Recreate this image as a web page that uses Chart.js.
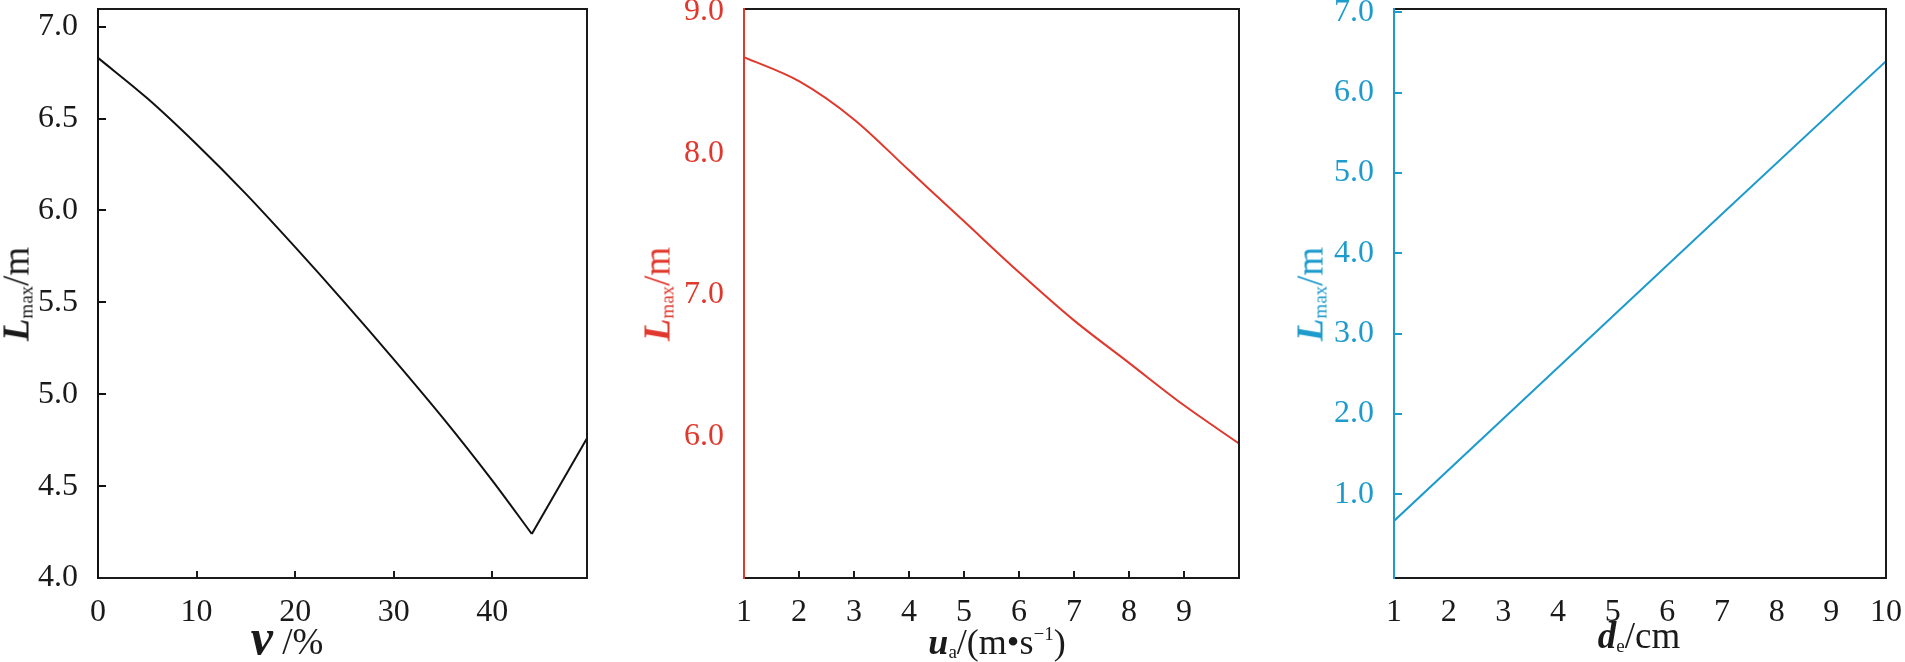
<!DOCTYPE html>
<html>
<head>
<meta charset="utf-8">
<script src="https://cdn.jsdelivr.net/npm/chart.js"></script>
<style>
  html, body { margin: 0; padding: 0; background: #fff; }
  body { width: 1905px; height: 662px; position: relative; overflow: hidden; font-family: 'Liberation Serif', 'DejaVu Serif', serif; }
  .panel { position: absolute; top: 0; height: 662px; }
  .title { position: absolute; white-space: nowrap; font-size: 37px; line-height: 37px; }
  .xt { transform: translateX(-50%); color: #1a1a1a; }
  .yt { transform: translate(-50%, -50%) rotate(-90deg); }
  .title sub { font-size: 19px; vertical-align: -4px; line-height: 0; }
  .title sup { font-size: 19px; vertical-align: 14px; line-height: 0; }
  .big { font-weight: bold; font-style: italic; }
</style>
</head>
<body>
<div class="panel" style="left:0;width:625px"><canvas id="c1"></canvas></div>
<div class="panel" style="left:640px;width:620px"><canvas id="c2"></canvas></div>
<div class="panel" style="left:1280px;width:625px"><canvas id="c3"></canvas></div>

<div class="title yt" style="left:16px;top:294px;color:#1a1a1a"><span class="big">L</span><sub>max</sub>/m</div>
<div class="title yt" style="left:657px;top:294px;color:#e0382c"><span class="big">L</span><sub>max</sub>/m</div>
<div class="title yt" style="left:1310px;top:294px;color:#1e9bcd"><span class="big">L</span><sub>max</sub>/m</div>

<div class="title xt" style="left:287px;top:619px"><span class="big" style="font-size:50px">v</span> /%</div>
<div class="title xt" style="left:997px;top:624px;font-size:36px"><span class="big">u</span><sub>a</sub>/(m•s<sup>−1</sup>)</div>
<div class="title xt" style="left:1639px;top:617px"><span class="big">d</span><sub>e</sub>/cm</div>

<script>
// panel 1: L_max vs v (%)
const vPct = [0, 5, 10, 15, 20, 25, 30, 35, 40, 44, 49.6];
const lmaxV = [6.83, 6.61, 6.36, 6.09, 5.80, 5.50, 5.19, 4.87, 4.53, 4.24, 4.76];
const vTicks = [0, 10, 20, 30, 40];
const lmaxVTicks = [4.0, 4.5, 5.0, 5.5, 6.0, 6.5, 7.0];

// panel 2: L_max vs u_a (m/s)
const uaWind = [1, 2, 3, 4, 5, 6, 7, 8, 9, 10];
const lmaxU = [8.68, 8.51, 8.24, 7.88, 7.52, 7.16, 6.82, 6.52, 6.22, 5.95];
const uaTicks = [1, 2, 3, 4, 5, 6, 7, 8, 9];
const lmaxUTicks = [6.0, 7.0, 8.0, 9.0];

// panel 3: L_max vs d_e (cm)
const deCm = [1, 4, 7, 10];
const lmaxD = [0.67, 2.58, 4.49, 6.39];
const deTicks = [1, 2, 3, 4, 5, 6, 7, 8, 9, 10];
const lmaxDTicks = [1.0, 2.0, 3.0, 4.0, 5.0, 6.0, 7.0];

const FONT = "'Liberation Serif', 'DejaVu Serif', serif";
const INK = '#1a1a1a';

// box round the plot + short inward tick marks
const framePlugin = {
  id: 'frame',
  afterDatasetsDraw(chart, args, o) {
    const { ctx, chartArea: a, scales: { x, y } } = chart;
    ctx.save();
    ctx.lineWidth = 2;
    ctx.lineCap = 'butt';
    ctx.strokeStyle = INK;
    ctx.beginPath();
    (o.xMarks || []).forEach(v => {
      const px = Math.round(x.getPixelForValue(v));
      ctx.moveTo(px, a.bottom);
      ctx.lineTo(px, a.bottom - 7);
    });
    ctx.stroke();
    ctx.strokeStyle = o.yColor;
    ctx.beginPath();
    (o.yMarks || []).forEach(v => {
      const py = Math.round(y.getPixelForValue(v));
      ctx.moveTo(a.left, py);
      ctx.lineTo(a.left + 8, py);
    });
    ctx.stroke();
    ctx.strokeStyle = INK;
    ctx.lineJoin = 'miter';
    ctx.beginPath();
    ctx.moveTo(a.left, a.top);
    ctx.lineTo(a.right, a.top);
    ctx.lineTo(a.right, a.bottom);
    ctx.lineTo(a.left, a.bottom);
    ctx.stroke();
    ctx.strokeStyle = o.yColor;
    ctx.beginPath();
    ctx.moveTo(a.left, a.top - 1);
    ctx.lineTo(a.left, a.bottom + 1);
    ctx.stroke();
    ctx.restore();
  }
};

function lineSet(xs, ys, color, smooth) {
  return {
    data: xs.map((x, i) => ({ x: x, y: ys[i] })),
    borderColor: color,
    borderWidth: 2,
    pointRadius: 0,
    tension: 0,
    cubicInterpolationMode: smooth ? 'monotone' : 'default',
    fill: false
  };
}

function makePanel(id, p) {
  new Chart(document.getElementById(id), {
    type: 'line',
    data: { datasets: p.sets },
    plugins: [framePlugin],
    options: {
      responsive: true,
      maintainAspectRatio: false,
      animation: false,
      layout: { padding: { top: 9, right: p.padRight, left: 0, bottom: 0 } },
      plugins: {
        legend: { display: false },
        tooltip: { enabled: false },
        frame: { xMarks: p.xMarks, yMarks: p.yMarks, yColor: p.color }
      },
      scales: {
        x: {
          type: 'linear',
          min: p.xMin,
          max: p.xMax,
          afterBuildTicks: s => { s.ticks = p.xTicks.map(v => ({ value: v })); },
          afterFit: s => { s.height = 84; s.paddingLeft = 0; s.paddingRight = 0; },
          grid: { display: false },
          border: { display: false },
          ticks: {
            padding: 7,
            color: INK,
            autoSkip: false,
            maxRotation: 0,
            font: { family: FONT, size: 32 },
            callback: v => String(v)
          }
        },
        y: {
          min: p.yMin,
          max: p.yMax,
          afterBuildTicks: s => { s.ticks = p.yTicks.map(v => ({ value: v })); },
          afterFit: s => { s.width = p.yWidth; s.paddingTop = 0; s.paddingBottom = 0; },
          grid: { display: false },
          border: { display: false },
          ticks: {
            padding: 12,
            color: p.color === '#111111' ? INK : p.color,
            autoSkip: false,
            font: { family: FONT, size: 32 },
            callback: v => Number(v).toFixed(1)
          }
        }
      }
    }
  });
}

// split panel 1 at its minimum so the falling branch is smooth and the corner stays sharp
const vMinIdx = lmaxV.indexOf(Math.min(...lmaxV));

makePanel('c1', {
  sets: [
    lineSet(vPct.slice(0, vMinIdx + 1), lmaxV.slice(0, vMinIdx + 1), '#111111', true),
    lineSet(vPct.slice(vMinIdx), lmaxV.slice(vMinIdx), '#111111', false)
  ],
  color: '#111111',
  xMin: 0, xMax: 49.6, yMin: 4.0, yMax: 7.096,
  xTicks: vTicks, yTicks: lmaxVTicks,
  xMarks: vTicks.slice(1), yMarks: lmaxVTicks.slice(1),
  yWidth: 98, padRight: 38
});

makePanel('c2', {
  sets: [lineSet(uaWind, lmaxU, '#e0382c', true)],
  color: '#e0382c',
  xMin: 1, xMax: 10, yMin: 5.0, yMax: 9.02,
  xTicks: uaTicks, yTicks: lmaxUTicks,
  xMarks: uaTicks.slice(1), yMarks: [],
  yWidth: 104, padRight: 21
});

makePanel('c3', {
  sets: [lineSet(deCm, lmaxD, '#1e9bcd', false)],
  color: '#1e9bcd',
  xMin: 1, xMax: 10, yMin: -0.04, yMax: 7.04,
  xTicks: deTicks, yTicks: lmaxDTicks,
  xMarks: [], yMarks: lmaxDTicks,
  yWidth: 114, padRight: 19
});
</script>
</body>
</html>
